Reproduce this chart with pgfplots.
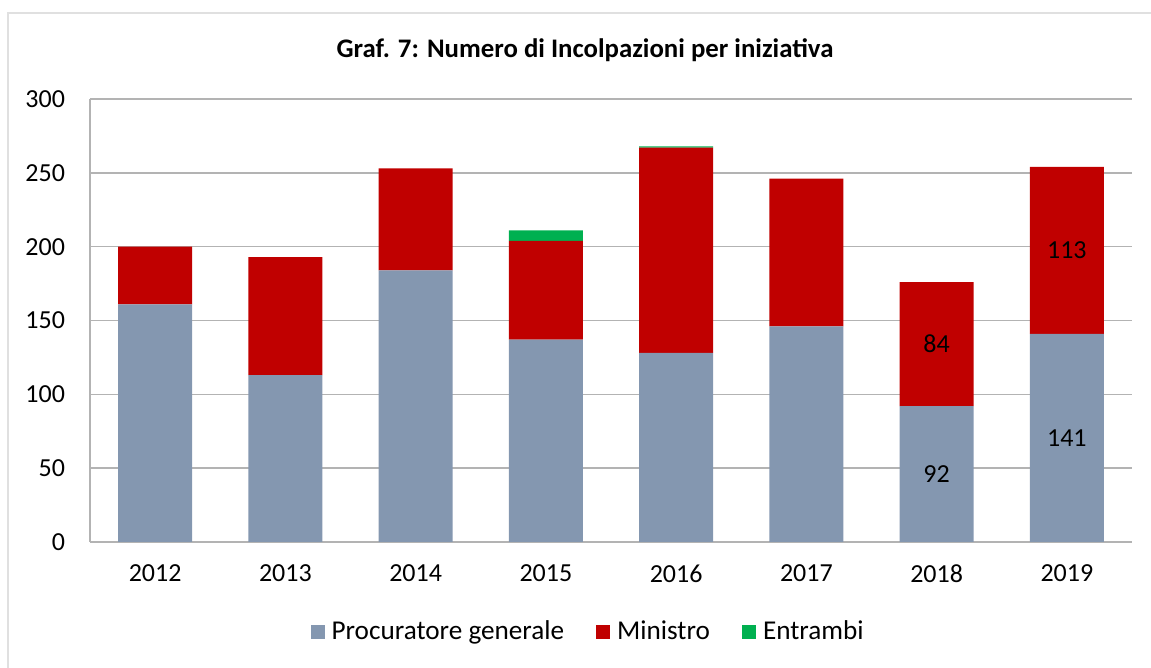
\documentclass[border=0pt]{standalone}
\usepackage{fontspec}
\setmainfont{Carlito}
\usepackage{pgfplots}
\pgfplotsset{compat=1.18}
\definecolor{cblue}{HTML}{8497B0}
\definecolor{cred}{HTML}{C00000}
\definecolor{cgreen}{HTML}{00B050}
\definecolor{cgrid}{HTML}{B3B3B3}
\definecolor{cframe}{HTML}{E0E0E0}
\begin{document}
\begin{tikzpicture}
\path[use as bounding box] (-45pt,-63pt) rectangle (530.5pt,271pt);
\draw[cframe, line width=1pt] (-41pt,-63pt) -- (-41pt,264.5pt) -- (530.5pt,264.5pt);
\node[font=\bfseries\fontsize{13.4}{16}\selectfont] at (247.5pt,246pt) {Graf. 7: Numero di Incolpazioni per iniziativa};
\begin{axis}[
  at={(0pt,0pt)}, anchor=south west,
  scale only axis, width=521pt, height=221.5pt,
  xmin=-0.5, xmax=7.5, ymin=0, ymax=300,
  ytick={0,50,...,300},
  xtick={0,...,7},
  xticklabels={2012,2013,2014,2015,2016,2017,2018,2019},
  axis x line*=bottom, axis y line*=left,
  axis line style={cgrid, line width=0.8pt},
  ymajorgrids, grid style={cgrid, line width=0.8pt},
  major tick length=0pt,
  ybar stacked, bar width=37pt,
  tick label style={font=\fontsize{13}{15}\selectfont},
  /pgf/number format/assume math mode=true,
  yticklabel style={xshift=-9pt},
  xticklabel style={yshift=-8pt},
  legend style={at={(axis description cs:0.479,-0.203)}, anchor=center, draw=none,
    legend columns=3, font=\fontsize{13.6}{16}\selectfont,
    /tikz/every even column/.append style={column sep=14pt}},
  legend image code/.code={\fill[#1] (0pt,-3.5pt) rectangle (7pt,3.5pt); \path (8.5pt,0pt);},
]
\addplot[fill=cblue, draw=none] coordinates {(0,161) (1,113) (2,184) (3,137) (4,128) (5,146) (6,92) (7,141)};
\addplot[fill=cred, draw=none] coordinates {(0,39) (1,80) (2,69) (3,67) (4,139) (5,100) (6,84) (7,113)};
\addplot[fill=cgreen, draw=none] coordinates {(0,0) (1,0) (2,0) (3,7) (4,1) (5,0) (6,0) (7,0)};
\legend{Procuratore generale, Ministro, Entrambi}
\coordinate (l1) at (axis cs:6,46);
\coordinate (l2) at (axis cs:6,134);
\coordinate (l3) at (axis cs:7,70.5);
\coordinate (l4) at (axis cs:7,197.5);
\end{axis}
\node[font=\fontsize{13}{15}\selectfont] at (l1) {92};
\node[font=\fontsize{13}{15}\selectfont] at (l2) {84};
\node[font=\fontsize{13}{15}\selectfont] at (l3) {141};
\node[font=\fontsize{13}{15}\selectfont] at (l4) {113};
\end{tikzpicture}
\end{document}
